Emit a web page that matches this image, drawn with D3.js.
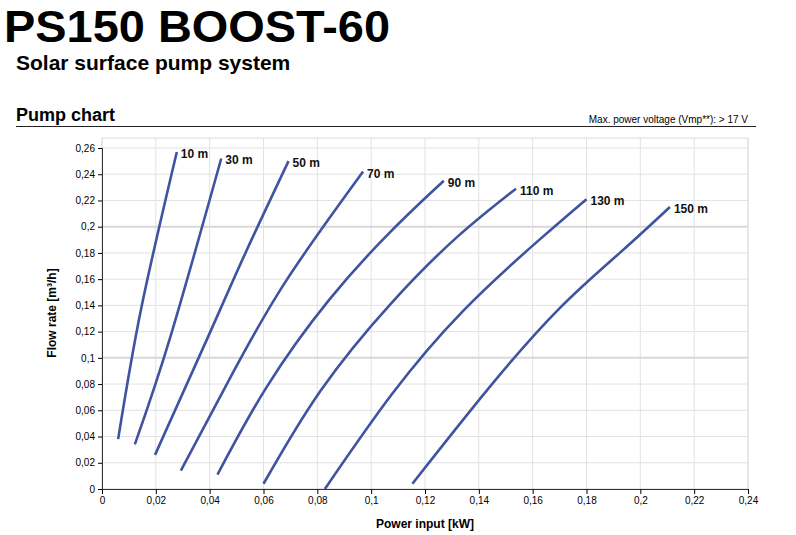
<!DOCTYPE html><html><head><meta charset="utf-8">
<script src="https://cdn.jsdelivr.net/npm/d3@7"></script>
<style>body{margin:0;background:#fff;font-family:"Liberation Sans",Arial,sans-serif}</style></head><body>
<svg id="c" width="796" height="535"></svg>
<script>
const heads=["10 m","30 m","50 m","70 m","90 m","110 m","130 m","150 m"];
const c10=[[0.0060,0.038],[0.0146,0.138],[0.0278,0.257]];
const c30=[[0.0122,0.034],[0.0254,0.116],[0.0443,0.252]];
const c50=[[0.0197,0.026],[0.0394,0.116],[0.0533,0.180],[0.0693,0.250]];
const c70=[[0.0293,0.014],[0.0487,0.089],[0.0688,0.160],[0.097,0.242]];
const c90=[[0.0429,0.011],[0.0611,0.0775],[0.0843,0.144],[0.1076,0.197],[0.127,0.235]];
const c110=[[0.060,0.004],[0.0812,0.075],[0.1076,0.142],[0.1324,0.193],[0.1538,0.229]];
const c130=[[0.0828,0.0],[0.1076,0.072],[0.134,0.1355],[0.1619,0.189],[0.18,0.221]];
const c150=[[0.1153,0.004],[0.1433,0.076],[0.1696,0.137],[0.1929,0.181],[0.211,0.215]];
const curves=[c10,c30,c50,c70,c90,c110,c130,c150];
const xTicks=d3.range(0,0.2401,0.02), yTicks=d3.range(0,0.2601,0.02);
const svg=d3.select("#c");
const fmt=d=>d===0?"0":d3.format(".2~f")(d).replace(".",",");
svg.append("text").attr("x",4).attr("y",42).attr("font-size",44).attr("font-weight","bold").attr("textLength",386).attr("lengthAdjust","spacingAndGlyphs").text("PS150 BOOST-60");
svg.append("text").attr("x",16).attr("y",70).attr("font-size",21).attr("font-weight","bold").text("Solar surface pump system");
svg.append("text").attr("x",16).attr("y",121).attr("font-size",18).attr("font-weight","bold").text("Pump chart");
svg.append("line").attr("x1",16).attr("x2",756).attr("y1",126.5).attr("y2",126.5).attr("stroke","#222");
svg.append("text").attr("x",748).attr("y",123).attr("text-anchor","end").attr("font-size",10).text("Max. power voltage (Vmp**): > 17 V");
const x=d3.scaleLinear().domain([0,0.24]).range([102,748]);
const y=d3.scaleLinear().domain([0,0.26]).range([489,148]);
const g=svg.append("g");
g.selectAll(".gx").data(xTicks).join("line").attr("x1",d=>x(d)).attr("x2",d=>x(d)).attr("y1",138).attr("y2",489).attr("stroke","#e2e2e2");
g.selectAll(".gy").data(yTicks).join("line").attr("x1",102).attr("x2",748).attr("y1",d=>y(d)).attr("y2",d=>y(d)).attr("stroke",(d,i)=>i%5==0&&i>0?"#d8d8d8":"#e2e2e2").attr("stroke-width",(d,i)=>i%5==0&&i>0?2:1);
g.append("rect").attr("x",102).attr("y",138).attr("width",646).attr("height",351).attr("fill","none").attr("stroke","#ddd");
svg.append("g").attr("transform","translate(0,489)").call(d3.axisBottom(x).tickValues(xTicks).tickFormat(fmt).tickSize(5)).call(a=>{a.select(".domain").attr("stroke","#333");a.selectAll("text").attr("font-size",10).attr("font-family","Liberation Sans")});
svg.append("g").attr("transform","translate(102,0)").call(d3.axisLeft(y).tickValues(yTicks).tickFormat(fmt).tickSize(4)).call(a=>{a.select(".domain").attr("stroke","#333");a.selectAll("text").attr("font-size",10).attr("font-family","Liberation Sans")});
svg.append("text").attr("x",425).attr("y",528).attr("text-anchor","middle").attr("font-size",12).attr("font-weight","bold").text("Power input [kW]");
svg.append("text").attr("transform","translate(56,313) rotate(-90)").attr("text-anchor","middle").attr("font-size",12).attr("font-weight","bold").text("Flow rate [m³/h]");
const line=d3.line().x(d=>x(d[0])).y(d=>y(d[1])).curve(d3.curveNatural);
curves.forEach((c,i)=>{
 svg.append("path").attr("d",line(c)).attr("fill","none").attr("stroke","#3f53a0").attr("stroke-width",2.6);
 const e=c[c.length-1];
 svg.append("text").attr("x",x(e[0])+4).attr("y",y(e[1])+6).attr("font-size",12).attr("font-weight","bold").attr("fill","#111").text(heads[i]);
});
</script></body></html>
